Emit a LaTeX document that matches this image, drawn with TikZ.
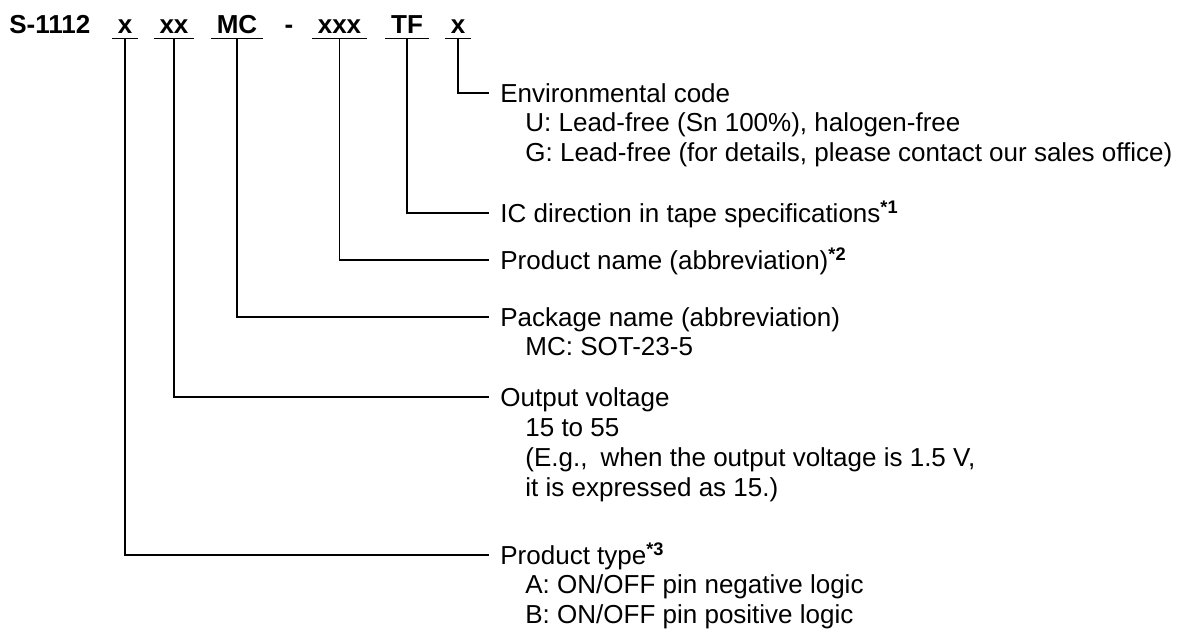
\documentclass[tikz,border=0pt]{standalone}
\usepackage{fontspec}
\setmainfont{Liberation Sans}
\usetikzlibrary{positioning}

\begin{document}
\begin{tikzpicture}[x=0.5pt, y=-0.5pt,
	every node/.style={font=\fontsize{13}{14.75}\selectfont, inner sep=0pt},
	code/.style={font=\fontsize{13}{14.75}\selectfont\bfseries, anchor=base, inner xsep=2.75pt, inner ysep=2.5pt, text depth=0pt},
	head/.style={anchor=base west, inner xsep=5.5pt, inner ysep=0pt, text height=9.3pt, text depth=0pt},
	item/.style={anchor=base west},
	wire/.style={line width=0.9pt}]

	\useasboundingbox (0,0) rectangle (1184,633);

	%product code
	\node [code, anchor=base west, inner xsep=0pt] (series) at (9,33) {S-1112};
	\node [code] (ctype) at (125,33) {x};
	\node [code] (cvolt) at (174,33) {xx};
	\node [code] (cpkg) at (237,33) {MC};
	\node [code, inner xsep=0pt] (dash) at (289,33) {-};
	\node [code] (cname) at (339.5,33) {xxx};
	\node [code] (ctape) at (407,33) {TF};
	\node [code] (cenv) at (458,33) {x};

	%underlines
	\foreach \c in {ctype, cvolt, cpkg, cname, ctape, cenv}
		\draw [wire] (\c.south west) -- (\c.south east);

	%headings
	\node [head] (env) at (489,102.3) {Environmental code};
	\node [head] (tape) at (489,222.3) {IC direction in tape specifications\textsuperscript{\textbf{*1}}};
	\node [head] (pname) at (489,269.3) {Product name (abbreviation)\textsuperscript{\textbf{*2}}};
	\node [head] (pkg) at (489,326.3) {Package name (abbreviation)};
	\node [head] (volt) at (489,406.3) {Output voltage};
	\node [head] (ptype) at (489,564.3) {Product type\textsuperscript{\textbf{*3}}};

	%details
	\node [item] (envU) at (525,131.8) {U: Lead-free (Sn 100\%), halogen-free};
	\node [item] (envG) at (525,161.3) {G: Lead-free (for details, please contact our sales office)};
	\node [item] (pkgMC) at (525,355.8) {MC: SOT-23-5};
	\node [item] (voltA) at (525,436) {15 to 55};
	\node [item] (voltB) at (525,466) {(E.g.,\hspace{0.5em}when the output voltage is 1.5 V,};
	\node [item] (voltC) at (525,496) {it is expressed as 15.)};
	\node [item] (ptypeA) at (525,593.8) {A: ON/OFF pin negative logic};
	\node [item] (ptypeB) at (525,623.3) {B: ON/OFF pin positive logic};

	%leader lines
	\draw [wire] (cenv.south) |- (env.west);
	\draw [wire] (ctape.south) |- (tape.west);
	\draw [wire] (cname.south) |- (pname.west);
	\draw [wire] (cpkg.south) |- (pkg.west);
	\draw [wire] (cvolt.south) |- (volt.west);
	\draw [wire] (ctype.south) |- (ptype.west);

\end{tikzpicture}
\end{document}
